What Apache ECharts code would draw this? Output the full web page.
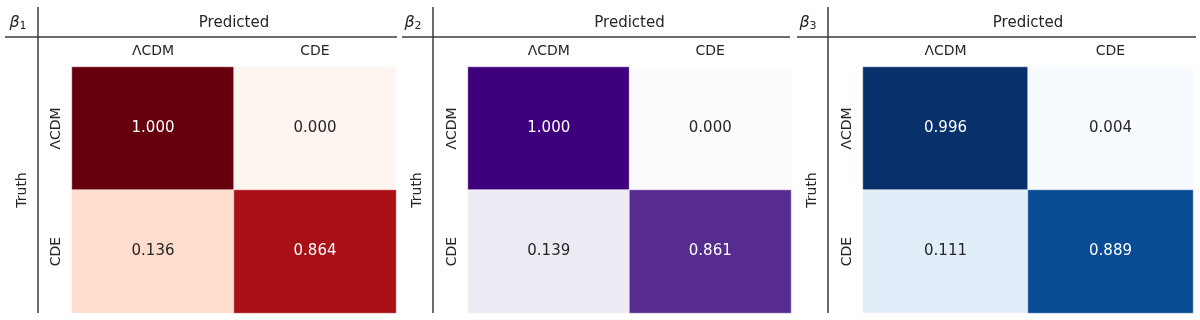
<!DOCTYPE html>
<html>
<head>
<meta charset="utf-8">
<script src="https://cdn.jsdelivr.net/npm/echarts@6/dist/echarts.min.js"></script>
<style>
html, body { margin: 0; padding: 0; background: #fff; }
#main { width: 1200px; height: 320px; }
</style>
</head>
<body>
<div id="main"></div>
<script>
// categories (truth rows / predicted columns)
var classes = ['ΛCDM', 'CDE'];
var panelNames = ['1', '2', '3'];
// confusion matrices, rows = truth, cols = predicted
var beta1 = [[1.000, 0.000], [0.136, 0.864]];
var beta2 = [[1.000, 0.000], [0.139, 0.861]];
var beta3 = [[0.996, 0.004], [0.111, 0.889]];
var matrices = [beta1, beta2, beta3];

var palettes = [
	['#fff5f0', '#fee0d2', '#fcbba1', '#fc9272', '#fb6a4a', '#ef3b2c', '#cb181d', '#a50f15', '#67000d'],
	['#fcfbfd', '#efedf5', '#dadaeb', '#bcbddc', '#9e9ac8', '#807dba', '#6a51a3', '#54278f', '#3f007d'],
	['#f7fbff', '#deebf7', '#c6dbef', '#9ecae1', '#6baed6', '#4292c6', '#2171b5', '#08519c', '#08306b']
];

// layout of each panel
var panels = [
	{ left: 72, width: 324, vline: 38, hx0: 5, hx1: 397 },
	{ left: 468, width: 323, vline: 433, hx0: 402, hx1: 790 },
	{ left: 863, width: 330, vline: 828, hx0: 797, hx1: 1196 }
];
var gridTop = 67, gridHeight = 246;
var lineColor = '#3a3a3a';
var font = 'DejaVu Sans';

var grids = [], xAxes = [], yAxes = [], visualMaps = [], series = [], graphics = [];

for (var p = 0; p < 3; p++) {
	var m = matrices[p];
	var flat = [].concat(m[0], m[1]);
	var vmin = Math.min.apply(null, flat), vmax = Math.max.apply(null, flat);
	var data = [];
	for (var r = 0; r < 2; r++) {
		for (var c = 0; c < 2; c++) {
			var v = m[r][c];
			var t = (v - vmin) / (vmax - vmin);
			data.push({
				value: [c, r, v],
				label: { color: t > 0.5 ? '#ffffff' : '#262626' }
			});
		}
	}
	var pn = panels[p];
	grids.push({ left: pn.left, top: gridTop, width: pn.width, height: gridHeight });
	xAxes.push({
		type: 'category', gridIndex: p, data: classes, position: 'top',
		axisLine: { show: false }, axisTick: { show: false }, splitLine: { show: false },
		axisLabel: { margin: 9, fontSize: 14, color: '#262626', fontFamily: font }
	});
	yAxes.push({
		type: 'category', gridIndex: p, data: classes, inverse: true,
		axisLine: { show: false }, axisTick: { show: false }, splitLine: { show: false },
		axisLabel: { margin: 9, rotate: 90, fontSize: 14, color: '#262626', fontFamily: font }
	});
	visualMaps.push({
		show: false, seriesIndex: p, dimension: 2, min: vmin, max: vmax,
		inRange: { color: palettes[p] }
	});
	series.push({
		type: 'heatmap', xAxisIndex: p, yAxisIndex: p, data: data,
		itemStyle: { borderColor: 'rgba(255,255,255,0.45)', borderWidth: 1 },
		label: {
			show: true, fontSize: 15, fontFamily: font,
			formatter: function (d) { return d.value[2].toFixed(3); }
		},
		emphasis: { disabled: true }
	});

	// divider lines
	graphics.push({
		type: 'line', shape: { x1: pn.vline, y1: 7, x2: pn.vline, y2: 313 },
		style: { stroke: lineColor, lineWidth: 1.5 }
	});
	graphics.push({
		type: 'line', shape: { x1: pn.hx0, y1: 37, x2: pn.hx1, y2: 37 },
		style: { stroke: lineColor, lineWidth: 1.5 }
	});
	// header texts
	graphics.push({
		type: 'text', x: pn.left + pn.width / 2, y: 23,
		style: { text: 'Predicted', fontSize: 15, fontFamily: font, fill: '#262626', align: 'center', verticalAlign: 'middle' }
	});
	graphics.push({
		type: 'text', x: pn.vline - 20, y: 23,
		style: {
			text: '{b|β}{s|' + panelNames[p] + '}', align: 'center', verticalAlign: 'middle',
			rich: {
				b: { fontSize: 16, fontStyle: 'italic', fontFamily: font, fill: '#262626' },
				s: { fontSize: 11, fontFamily: font, fill: '#262626', padding: [7, 0, 0, 0] }
			}
		}
	});
	graphics.push({
		type: 'text', x: pn.vline - 16, y: gridTop + gridHeight / 2, rotation: Math.PI / 2,
		style: { text: 'Truth', fontSize: 14, fontFamily: font, fill: '#262626', align: 'center', verticalAlign: 'middle' }
	});
}

var myChart = echarts.init(document.getElementById('main'), null, { renderer: 'canvas' });
myChart.setOption({
	animation: false,
	grid: grids,
	xAxis: xAxes,
	yAxis: yAxes,
	visualMap: visualMaps,
	series: series,
	graphic: graphics
});
</script>
</body>
</html>
